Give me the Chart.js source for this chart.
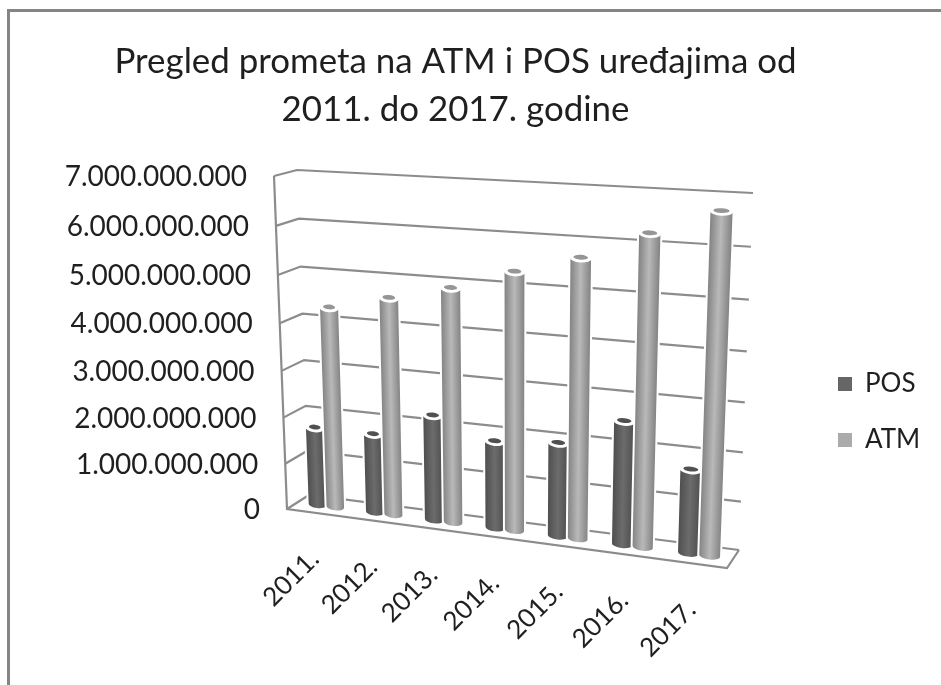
<!DOCTYPE html>
<html><head><meta charset="utf-8">
<style>
html,body{margin:0;padding:0;background:#fff;width:941px;height:685px;overflow:hidden}
#frame{position:absolute;left:7px;top:9px;right:-5px;bottom:-5px;border:3px solid #858585}
#wrap{position:absolute;left:0;top:0;width:941px;height:685px}
canvas{filter:blur(.35px)}
</style>
<script src="https://cdn.jsdelivr.net/npm/chart.js@4"></script>
</head><body>
<div id="frame"></div>
<div id="wrap"><canvas id="c" width="941" height="685"></canvas></div>
<script>
const categories = ['2011.','2012.','2013.','2014.','2015.','2016.','2017.'];
const posValues = [1.68e9,1.68e9,2.22e9,1.82e9,1.93e9,2.52e9,1.69e9];
const atmValues = [4.28e9,4.58e9,4.88e9,5.30e9,5.66e9,6.21e9,6.70e9];
const valueTickLabels = ['0','1.000.000.000','2.000.000.000','3.000.000.000','4.000.000.000','5.000.000.000','6.000.000.000','7.000.000.000'];
const seriesTitles = ['POS','ATM'];
const chartTitle = ['Pregled prometa na ATM i POS uređajima od','2011. do 2017. godine'];

const FONT = 'Lato, Carlito, sans-serif';
const TEXT = '#1f1f1f';
const LINE = '#8c8c8c';
// Corners of the two planes of the box: top-left, top-right, bottom-right, bottom-left
const frontPlane = [[274,176],[741,201],[727,568],[287,509]];
const backPlane  = [[297,170],[753,193],[739,550],[309,495]];
const BAR_DEPTH = 0.5;

function homography(q){
  const [[x0,y0],[x1,y1],[x2,y2],[x3,y3]] = q;
  const dx1=x1-x2, dx2=x3-x2, sx=x0-x1+x2-x3;
  const dy1=y1-y2, dy2=y3-y2, sy=y0-y1+y2-y3;
  const det=dx1*dy2-dx2*dy1;
  const g=(sx*dy2-dx2*sy)/det, h=(dx1*sy-sx*dy1)/det;
  const a=x1-x0+g*x1, b=x3-x0+h*x3, d=y1-y0+g*y1, e=y3-y0+h*y3;
  return (u,v)=>{const w=g*u+h*v+1;return [(a*u+b*v+x0)/w,(d*u+e*v+y0)/w];};
}
const frontH=homography(frontPlane), backH=homography(backPlane);

const perspective = {
  id:'perspective',
  afterLayout(chart){
    const lg=chart.legend, h=lg.bottom-lg.top;
    lg.left=808; lg.right=lg.left+lg.width;
    lg.top=341; lg.bottom=lg.top+h;
  },
  beforeDatasetDraw(){ return false; },
  beforeDatasetsDraw(chart){
    const {ctx,chartArea:ca,scales:{x,y}}=chart;
    const U=px=>(px-ca.left)/(ca.right-ca.left), V=py=>(py-ca.top)/(ca.bottom-ca.top);
    const P=(u,v,d)=>{const f=frontH(u,v),b=backH(u,v);return [f[0]+(b[0]-f[0])*d,f[1]+(b[1]-f[1])*d];};
    ctx.save();
    // walls and grid
    ctx.strokeStyle=LINE; ctx.lineWidth=2.2; ctx.lineJoin='miter'; ctx.lineCap='butt';
    y.ticks.forEach(t=>{
      const v=V(y.getPixelForValue(t.value));
      const a=P(0,v,0),b=P(0,v,1),c=P(1,v,1);
      ctx.beginPath();ctx.moveTo(a[0],a[1]);ctx.lineTo(b[0],b[1]);ctx.lineTo(c[0],c[1]);ctx.stroke();
    });
    const fl=P(0,0,0), bl=P(0,1,0), br=P(1,1,0), bb=P(1,1,1);
    ctx.beginPath();ctx.moveTo(fl[0],fl[1]);ctx.lineTo(bl[0],bl[1]);ctx.lineTo(br[0],br[1]);ctx.lineTo(bb[0],bb[1]);ctx.stroke();
    // cylinders
    const styles=[
      {edge:'#4f4f4f',mid:'#6c6c6c',inner:'#505050'},
      {edge:'#858585',mid:'#b9b9b9',inner:'#969696'}
    ];
    const v0=V(y.getPixelForValue(0));
    categories.forEach((_,i)=>{
      chart.data.datasets.forEach((ds,k)=>{
        const el=chart.getDatasetMeta(k).data[i];
        const ul=U(el.x-el.width/2), ur=U(el.x+el.width/2), uc=U(el.x), vt=V(el.y);
        const tl=P(ul,vt,BAR_DEPTH), tr=P(ur,vt,BAR_DEPTH), bl2=P(ul,v0,BAR_DEPTH), br2=P(ur,v0,BAR_DEPTH);
        const tc=P(uc,vt,BAR_DEPTH), bc=P(uc,v0,BAR_DEPTH);
        const rxT=Math.hypot(tr[0]-tl[0],tr[1]-tl[1])/2, rxB=Math.hypot(br2[0]-bl2[0],br2[1]-bl2[1])/2;
        const rotT=Math.atan2(tr[1]-tl[1],tr[0]-tl[0]), rotB=Math.atan2(br2[1]-bl2[1],br2[0]-bl2[0]);
        const ryB=3.5, ryT=4.2;
        const silhouette=()=>{
          ctx.beginPath();ctx.moveTo(tl[0],tl[1]);ctx.lineTo(tr[0],tr[1]);ctx.lineTo(br2[0],br2[1]);
          ctx.ellipse(bc[0],bc[1],rxB,ryB,rotB,0,Math.PI,false);ctx.closePath();
        };
        ctx.strokeStyle='#ffffff';ctx.lineWidth=4;silhouette();ctx.stroke();
        const ax=bc[0]-tc[0],ay=bc[1]-tc[1],al=Math.hypot(ax,ay),nx=ay/al,ny=-ax/al;
        const g=ctx.createLinearGradient(bc[0]-nx*rxB,bc[1]-ny*rxB,bc[0]+nx*rxB,bc[1]+ny*rxB);
        const s=styles[k];
        g.addColorStop(0,s.edge);g.addColorStop(.5,s.mid);g.addColorStop(1,s.edge);
        ctx.fillStyle=g;silhouette();ctx.fill();
        ctx.fillStyle='#ffffff';ctx.beginPath();ctx.ellipse(tc[0],tc[1]-.5,rxT+.5,ryT,rotT,0,Math.PI*2);ctx.fill();
        ctx.fillStyle=s.inner;ctx.beginPath();ctx.ellipse(tc[0],tc[1]-1.5,rxT-3,ryT-1.8,rotT,0,Math.PI*2);ctx.fill();
      });
    });
    // axis labels
    ctx.fillStyle=TEXT;
    ctx.font='28px '+FONT; ctx.textAlign='right'; ctx.textBaseline='middle';
    y.ticks.forEach(t=>{
      const a=P(0,V(y.getPixelForValue(t.value)),0);
      ctx.fillText(t.label,a[0]-27,a[1]+1);
    });
    ctx.font='26px '+FONT;
    categories.forEach((_,i)=>{
      const a=P(U(x.getPixelForValue(i)),1,0);
      ctx.save();ctx.translate(a[0]-1,a[1]+42);ctx.rotate(-45*Math.PI/180);
      ctx.fillText(x.getLabelForValue(i),0,0);ctx.restore();
    });
    ctx.restore();
  }
};

Chart.defaults.font.family=FONT;
new Chart(document.getElementById('c'),{
  type:'bar',
  data:{labels:categories,datasets:[
    {label:seriesTitles[0],data:posValues,backgroundColor:'#666666',borderWidth:0,barPercentage:.97,categoryPercentage:.63},
    {label:seriesTitles[1],data:atmValues,backgroundColor:'#ababab',borderWidth:0,barPercentage:.97,categoryPercentage:.63}
  ]},
  options:{
    responsive:false,animation:false,
    layout:{padding:{right:30}},
    plugins:{
      title:{display:true,text:chartTitle,color:TEXT,font:{family:FONT,size:34.9,weight:'normal',lineHeight:1.37},padding:{top:38,bottom:42}},
      legend:{display:true,position:'right',align:'start',labels:{boxWidth:14,boxHeight:14,padding:30,color:TEXT,font:{family:FONT,size:26}}},
      tooltip:{enabled:false}
    },
    scales:{
      x:{type:'category',grid:{display:false},border:{display:false},ticks:{display:false},afterFit:s=>{s.height=176;}},
      y:{type:'linear',min:0,max:7e9,grid:{display:false},border:{display:false},
         ticks:{display:false,stepSize:1e9,autoSkip:false,callback:(v)=>valueTickLabels[Math.round(v/1e9)]},
         afterFit:s=>{s.width=288;}}
    }
  },
  plugins:[perspective]
});
</script>
</body></html>
